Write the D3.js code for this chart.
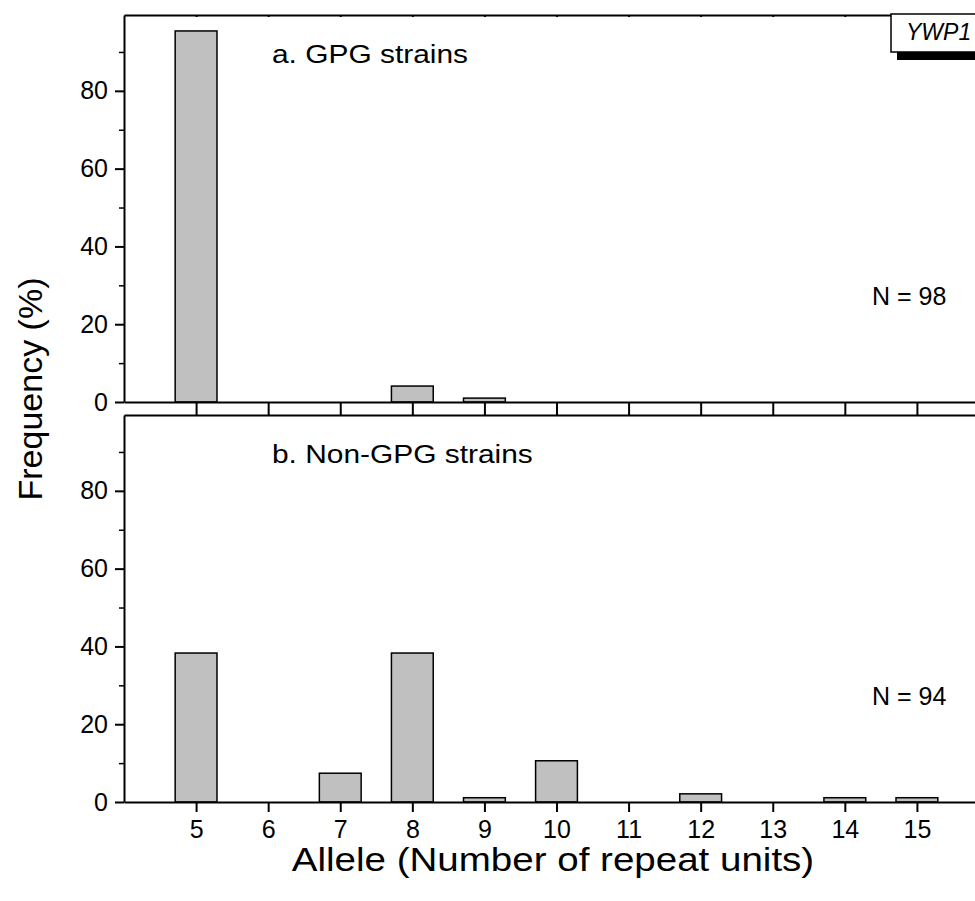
<!DOCTYPE html>
<html>
<head>
<meta charset="utf-8">
<script src="https://cdn.jsdelivr.net/npm/d3@7"></script>
<style>
  html, body { margin: 0; padding: 0; background: #fff; }
  svg { display: block; font-family: "Liberation Sans", Arial, sans-serif; }
</style>
</head>
<body>
<svg id="chart" width="975" height="901"></svg>
<script>
// allele sizes (number of repeat units)
const alleles = [5, 6, 7, 8, 9, 10, 11, 12, 13, 14, 15];
// frequency (%) per allele
const gpgFreq    = [95.4, 0, 0, 4.1, 1.0, 0, 0, 0, 0, 0, 0];
const nonGpgFreq = [38.3, 0, 7.4, 38.3, 1.1, 10.6, 0, 2.1, 0, 1.1, 1.1];
const yTicks = [0, 20, 40, 60, 80];
const panelLabels = ['a. GPG strains', 'b. Non-GPG strains'];
const sampleSizes = ['N = 98', 'N = 94'];

const svg = d3.select('#chart');

const left = 124, right = 989;
const x = d3.scaleLinear().domain([4, 16]).range([left, right]);
const barW = x(4.58) - x(4);

// text drawn slightly wider than the installed font, like the original
function wideText(tx, ty, str, size, sx, anchor) {
  return svg.append('text')
    .attr('transform', `translate(${tx},${ty}) scale(${sx},1)`)
    .attr('text-anchor', anchor || 'start')
    .attr('font-size', size)
    .text(str);
}

const panels = [
  { top: 15,  bottom: 402, data: gpgFreq,    label: panelLabels[0], n: sampleSizes[0] },
  { top: 415, bottom: 802, data: nonGpgFreq, label: panelLabels[1], n: sampleSizes[1] }
];

panels.forEach((p, i) => {
  const y = d3.scaleLinear().domain([0, 99.5]).range([p.bottom, p.top]);
  const g = svg.append('g');

  // bars
  g.selectAll('rect.bar')
    .data(alleles.map((a, k) => ({ a, v: p.data[k] })).filter(d => d.v > 0))
    .enter().append('rect')
    .attr('class', 'bar')
    .attr('x', d => x(d.a) - barW / 2)
    .attr('y', d => y(d.v))
    .attr('width', barW)
    .attr('height', d => y(0) - y(d.v))
    .attr('fill', '#c0c0c0')
    .attr('stroke', '#000')
    .attr('stroke-width', 1.5);

  // minor y ticks
  const yMinor = d3.axisLeft(y).tickValues([10, 30, 50, 70, 90]).tickSize(5).tickFormat('');
  const gm = g.append('g').attr('transform', `translate(${left},0)`).call(yMinor);
  gm.select('.domain').remove();
  gm.selectAll('text').remove();
  gm.selectAll('line').attr('stroke-width', 1.5);

  // major y axis
  const yAxis = d3.axisLeft(y).tickValues(yTicks).tickSize(9).tickPadding(7).tickSizeOuter(0);
  const gy = g.append('g').attr('transform', `translate(${left},0)`).call(yAxis);
  gy.selectAll('text').attr('font-size', 25).attr('font-family', null).attr('fill', '#000');
  gy.selectAll('line').attr('stroke-width', 2);
  gy.select('.domain').attr('stroke-width', 2);

  // bottom x axis (labels only on the lower panel)
  const xAxis = d3.axisBottom(x).tickValues(alleles).tickSize(10).tickSizeOuter(0)
    .tickPadding(8).tickFormat(d3.format('d'));
  const gx = g.append('g').attr('transform', `translate(0,${p.bottom})`).call(xAxis);
  if (i === 0) gx.selectAll('text').remove();
  gx.selectAll('text').attr('font-size', 25).attr('font-family', null).attr('fill', '#000');
  gx.selectAll('line').attr('stroke-width', 2);
  gx.select('.domain').attr('stroke-width', 2);

  // top x axis
  const xTop = d3.axisTop(x).tickValues(alleles).tickSizeInner(i === 0 ? -2 : 3).tickSizeOuter(0);
  const gt = g.append('g').attr('transform', `translate(0,${p.top})`).call(xTop);
  gt.selectAll('text').remove();
  gt.selectAll('line').attr('stroke-width', 2);
  gt.select('.domain').attr('stroke-width', 2);

  // panel texts
  wideText(272, p.top + 48, p.label, 26, 1.15);
  wideText(872, p.top + 290, p.n, 25, 1.0);
});

// gene label box with drop shadow
svg.append('rect')
  .attr('x', 897).attr('y', 22).attr('width', 110).attr('height', 38)
  .attr('fill', '#000');
svg.append('rect')
  .attr('x', 891).attr('y', 14).attr('width', 110).attr('height', 38)
  .attr('fill', '#fff').attr('stroke', '#000').attr('stroke-width', 1.5);
svg.append('text')
  .attr('x', 906).attr('y', 40)
  .attr('font-size', 23)
  .attr('font-style', 'italic')
  .text('YWP1');

// axis titles
svg.append('text')
  .attr('transform', 'translate(42,389) rotate(-90)')
  .attr('text-anchor', 'middle')
  .attr('font-size', 34)
  .text('Frequency (%)');

wideText(553, 871, 'Allele (Number of repeat units)', 33.5, 1.15, 'middle');
</script>
</body>
</html>
